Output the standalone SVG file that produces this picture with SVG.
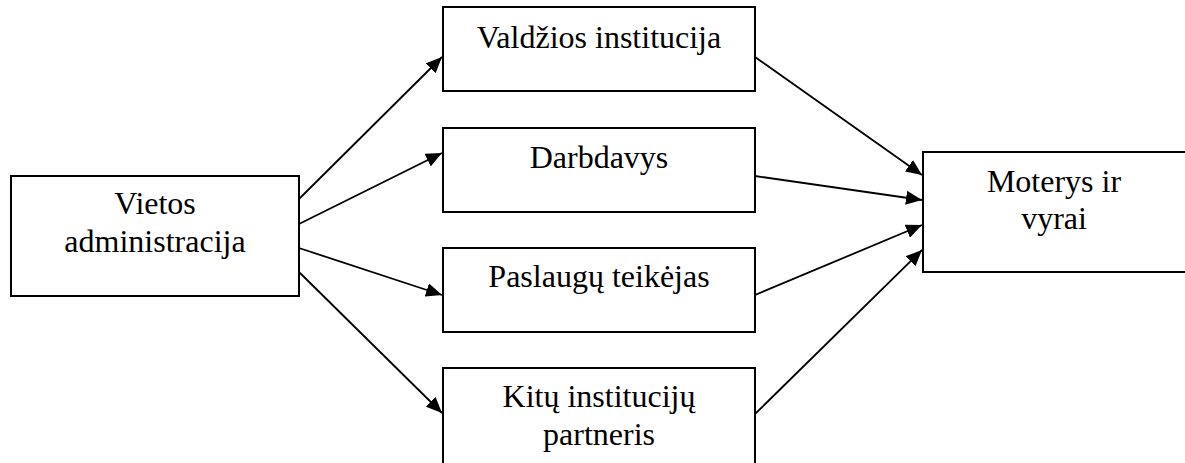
<svg xmlns="http://www.w3.org/2000/svg" width="1185" height="463" viewBox="0 0 1185 463">
<style>
.box{fill:#fff;stroke:#000;stroke-width:2}
.t{font-family:"Liberation Serif","Times New Roman",serif;font-size:32px;fill:#000;text-anchor:middle}
.c{stroke:#000;stroke-width:1.8;fill:none;marker-end:url(#ah)}
</style>
<defs>
<marker id="ah" markerUnits="userSpaceOnUse" markerWidth="18" markerHeight="14" refX="16" refY="7" orient="auto">
<path d="M0,0 L16,7 L0,14 Z" fill="#000"/>
</marker>
</defs>
<rect width="1185" height="463" fill="#fff"/>
<g id="vietos">
<rect class="box" x="11" y="176" width="288" height="120"/>
<text class="t" x="155" y="214">Vietos</text>
<text class="t" x="155" y="252">administracija</text>
</g>
<g id="valdzios">
<rect class="box" x="443" y="7" width="312" height="84"/>
<text class="t" x="599" y="48">Valdžios institucija</text>
</g>
<g id="darbdavys">
<rect class="box" x="443" y="128" width="312" height="84"/>
<text class="t" x="599" y="168">Darbdavys</text>
</g>
<g id="paslaugu">
<rect class="box" x="443" y="248" width="312" height="84"/>
<text class="t" x="599" y="287">Paslaugų teikėjas</text>
</g>
<g id="kitu">
<rect class="box" x="443" y="368" width="312" height="120"/>
<text class="t" x="599" y="407">Kitų institucijų</text>
<text class="t" x="599" y="445">partneris</text>
</g>
<g id="moterys">
<rect class="box" x="923" y="152" width="290" height="120"/>
<text class="t" x="1054" y="192">Moterys ir</text>
<text class="t" x="1054" y="229">vyrai</text>
</g>
<g id="connectors">
<line class="c" x1="299" y1="199" x2="442" y2="57"/>
<line class="c" x1="299" y1="224" x2="442" y2="153"/>
<line class="c" x1="299" y1="248" x2="442" y2="295"/>
<line class="c" x1="299" y1="272" x2="442" y2="413"/>
<line class="c" x1="755" y1="57" x2="922" y2="175"/>
<line class="c" x1="755" y1="176" x2="922" y2="200"/>
<line class="c" x1="755" y1="295" x2="922" y2="225"/>
<line class="c" x1="755" y1="414" x2="922" y2="250"/>
</g>
</svg>
